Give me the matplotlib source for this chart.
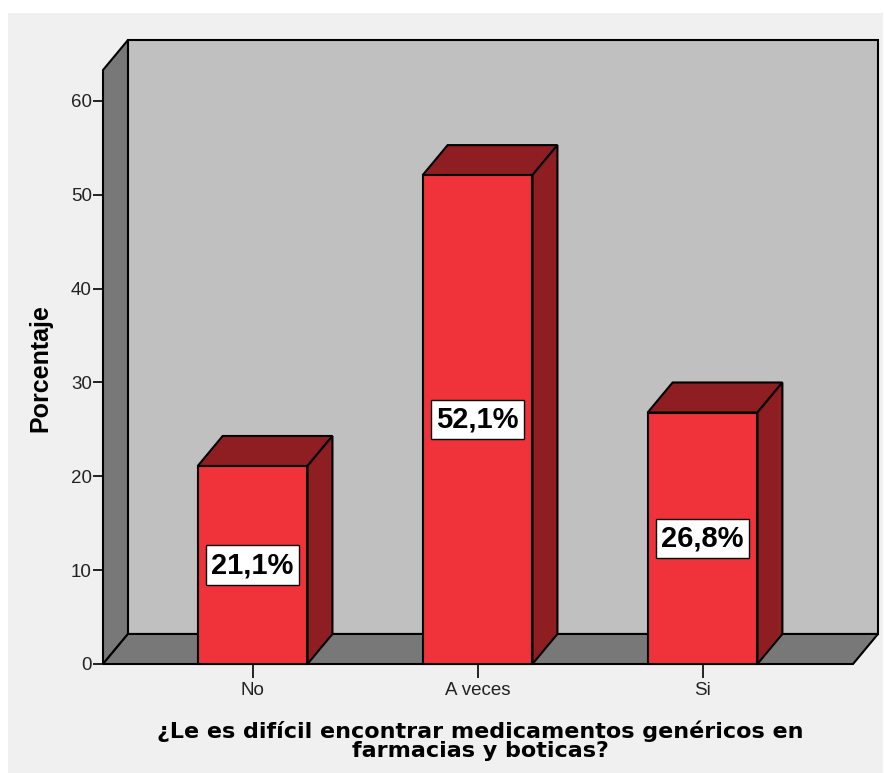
import numpy as np
import matplotlib.pyplot as plt
from matplotlib.patches import Polygon, Rectangle

categories = ['No', 'A veces', 'Si']
percent = [21.1, 52.1, 26.8]
labels = ['21,1%', '52,1%', '26,8%']
yticks = [0, 10, 20, 30, 40, 50, 60]

face_red = '#f0323a'
dark_red = '#8e1e22'
wall_gray = '#787878'
back_gray = '#c0c0c0'
bg = '#f0f0f0'

W, H = 885, 773
fig = plt.figure(figsize=(W / 100, H / 100), dpi=100, facecolor='white')
fig.patches.append(Rectangle((8 / W, 0), (883 - 8) / W, 1 - 13 / H, transform=fig.transFigure,
                             facecolor=bg, edgecolor='none', zorder=-10))

# axes spans front-left corner to back-right corner of the 3D box
ax = fig.add_axes([103 / W, (H - 664) / H, (878 - 103) / W, (664 - 40) / H])
ax.set_facecolor('none')
x0, xb = -0.665, 2.78
ytop = 66.5
dx, dy = 0.111, 3.2       # depth offset
x1 = xb - dx
ax.set_xlim(x0, xb)
ax.set_ylim(0, ytop)
for s in ax.spines.values():
    s.set_visible(False)

lw = 1.5
kw = dict(edgecolor='black', linewidth=lw, joinstyle='miter', clip_on=False)
# back wall
ax.add_patch(Polygon([(x0 + dx, dy), (xb, dy), (xb, ytop), (x0 + dx, ytop)],
                     facecolor=back_gray, zorder=1, **kw))
# left wall
ax.add_patch(Polygon([(x0, 0), (x0 + dx, dy), (x0 + dx, ytop), (x0, ytop - dy)],
                     facecolor=wall_gray, zorder=1, **kw))
# floor
ax.add_patch(Polygon([(x0, 0), (x1, 0), (xb, dy), (x0 + dx, dy)],
                     facecolor=wall_gray, zorder=1, **kw))

bw = 0.488
xpos = np.arange(len(categories))
for x, v, lab in zip(xpos, percent, labels):
    l, r = x - bw / 2, x + bw / 2
    ax.add_patch(Polygon([(l, v), (r, v), (r + dx, v + dy), (l + dx, v + dy)],
                         facecolor=dark_red, zorder=2, **kw))
    ax.add_patch(Polygon([(r, 0), (r + dx, dy), (r + dx, v + dy), (r, v)],
                         facecolor=dark_red, zorder=2, **kw))
    ax.add_patch(Polygon([(l, 0), (r, 0), (r, v), (l, v)],
                         facecolor=face_red, zorder=3, **kw))
    ax.text(x, v / 2, lab, ha='center', va='center', fontsize=21, fontweight='bold',
            family='Liberation Sans', zorder=5,
            bbox=dict(facecolor='white', edgecolor='black', linewidth=1, pad=4))

ax.set_yticks(yticks)
ax.set_yticklabels([str(t) for t in yticks], family='Liberation Sans', fontsize=13.5,
                   color='#222222')
ax.set_xticks(xpos)
ax.set_xticklabels(categories, family='Liberation Sans', fontsize=13.5, color='#222222')
ax.tick_params(axis='y', direction='out', length=7, width=1.2, pad=1)
ax.tick_params(axis='x', direction='out', length=10, width=1.2, pad=3)

fig.text(40 / W, 1 - 368 / H, 'Porcentaje', rotation=90, ha='center', va='center',
         fontsize=18, fontweight='bold', family='Liberation Sans')
fig.text(480 / W, 1 - 741 / H,
         '¿Le es difícil encontrar medicamentos genéricos en\nfarmacias y boticas?',
         ha='center', va='center', fontsize=16, fontweight='bold', family='DejaVu Sans',
         linespacing=0.95)

fig.savefig('out.png', dpi=100, facecolor=fig.get_facecolor())
